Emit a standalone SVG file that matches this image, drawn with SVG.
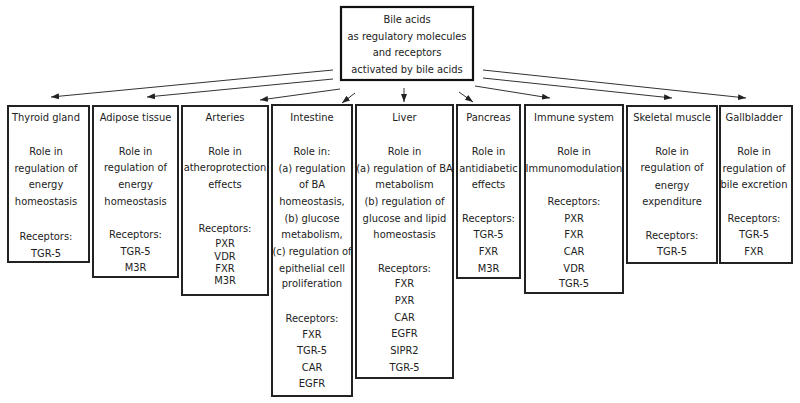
<svg xmlns="http://www.w3.org/2000/svg" width="800" height="403" viewBox="0 0 800 403">
<style>
text{font-family:"DejaVu Sans Condensed","DejaVu Sans",sans-serif;font-stretch:condensed;font-size:11px;fill:#222;text-anchor:middle}
.box{fill:#fff;stroke:#222;stroke-width:2}
.top{fill:#fff;stroke:#111;stroke-width:2.2}
.arr{stroke:#333;stroke-width:1;fill:none;marker-end:url(#ah)}
</style>
<defs>
<marker id="ah" markerUnits="userSpaceOnUse" markerWidth="8" markerHeight="6" refX="8" refY="3" orient="auto">
<path d="M0,0 L8,3 L0,6 z" fill="#222"/>
</marker>
</defs>
<rect width="800" height="403" fill="#fff"/>
<g id="connectors">
<line class="arr" x1="333" y1="70" x2="51" y2="97"/>
<line class="arr" x1="333" y1="79" x2="147" y2="97"/>
<line class="arr" x1="340" y1="89" x2="260" y2="100"/>
<line class="arr" x1="355" y1="93" x2="342" y2="103"/>
<line class="arr" x1="404" y1="88" x2="404" y2="102"/>
<line class="arr" x1="459" y1="92" x2="473" y2="102"/>
<line class="arr" x1="475" y1="86" x2="550" y2="98"/>
<line class="arr" x1="483" y1="78" x2="672" y2="98"/>
<line class="arr" x1="483" y1="70" x2="746" y2="98"/>
</g>
<g id="root">
<rect class="top" x="341" y="7" width="132" height="73"/>
<text x="407" y="23">Bile acids</text>
<text x="407" y="39.7">as regulatory molecules</text>
<text x="407" y="56.4">and receptors</text>
<text x="407" y="73.1">activated by bile acids</text>
</g>
<g id="thyroid">
<rect class="box" x="8" y="106" width="81" height="156"/>
<text x="46" y="121">Thyroid gland</text>
<text x="46" y="155">Role in</text>
<text x="46" y="171.7">regulation of</text>
<text x="46" y="188.4">energy</text>
<text x="46" y="205">homeostasis</text>
<text x="46" y="240">Receptors:</text>
<text x="46" y="256.5">TGR-5</text>
</g>
<g id="adipose">
<rect class="box" x="93" y="106" width="85" height="171"/>
<text x="135.5" y="121">Adipose tissue</text>
<text x="135.5" y="154.5">Role in</text>
<text x="135.5" y="171.2">regulation of</text>
<text x="135.5" y="188">energy</text>
<text x="135.5" y="204.5">homeostasis</text>
<text x="135.5" y="238.3">Receptors:</text>
<text x="135.5" y="254.5">TGR-5</text>
<text x="135.5" y="271.3">M3R</text>
</g>
<g id="arteries">
<rect class="box" x="182" y="106" width="86" height="189"/>
<text x="225" y="121.3">Arteries</text>
<text x="225" y="154.7">Role in</text>
<text x="225" y="171.3">atheroprotection</text>
<text x="225" y="188">effects</text>
<text x="225" y="232.3">Receptors:</text>
<text x="225" y="247.3">PXR</text>
<text x="225" y="260">VDR</text>
<text x="225" y="272.3">FXR</text>
<text x="225" y="284.3">M3R</text>
</g>
<g id="intestine">
<rect class="box" x="272" y="105" width="80" height="291"/>
<text x="312" y="120.7">Intestine</text>
<text x="312" y="155">Role in:</text>
<text x="312" y="171.7">(a) regulation</text>
<text x="312" y="188.3">of BA</text>
<text x="312" y="205">homeostasis,</text>
<text x="312" y="221.7">(b) glucose</text>
<text x="312" y="238.3">metabolism,</text>
<text x="312" y="255">(c) regulation of</text>
<text x="312" y="271.7">epithelial cell</text>
<text x="312" y="287.3">proliferation</text>
<text x="312" y="322.3">Receptors:</text>
<text x="312" y="338.3">FXR</text>
<text x="312" y="354">TGR-5</text>
<text x="312" y="370.7">CAR</text>
<text x="312" y="387.3">EGFR</text>
</g>
<g id="liver">
<rect class="box" x="356" y="105" width="97" height="273"/>
<text x="404.5" y="120.7">Liver</text>
<text x="404.5" y="155">Role in</text>
<text x="404.5" y="171.7">(a) regulation of BA</text>
<text x="404.5" y="188.3">metabolism</text>
<text x="404.5" y="205">(b) regulation of</text>
<text x="404.5" y="221.7">glucose and lipid</text>
<text x="404.5" y="238.3">homeostasis</text>
<text x="404.5" y="271.7">Receptors:</text>
<text x="404.5" y="287.3">FXR</text>
<text x="404.5" y="304">PXR</text>
<text x="404.5" y="320.7">CAR</text>
<text x="404.5" y="337">EGFR</text>
<text x="404.5" y="354">SIPR2</text>
<text x="404.5" y="370.7">TGR-5</text>
</g>
<g id="pancreas">
<rect class="box" x="457" y="105" width="63" height="173"/>
<text x="488.5" y="120.7">Pancreas</text>
<text x="488.5" y="155">Role in</text>
<text x="488.5" y="171.7">antidiabetic</text>
<text x="488.5" y="188.3">effects</text>
<text x="488.5" y="221.7">Receptors:</text>
<text x="488.5" y="238.3">TGR-5</text>
<text x="488.5" y="255">FXR</text>
<text x="488.5" y="271.7">M3R</text>
</g>
<g id="immune">
<rect class="box" x="525" y="105" width="98" height="188"/>
<text x="574" y="120.7">Immune system</text>
<text x="574" y="155">Role in</text>
<text x="574" y="171.7">Immunomodulation</text>
<text x="574" y="205">Receptors:</text>
<text x="574" y="221.7">PXR</text>
<text x="574" y="238.3">FXR</text>
<text x="574" y="255">CAR</text>
<text x="574" y="271.7">VDR</text>
<text x="574" y="287.3">TGR-5</text>
</g>
<g id="skeletal">
<rect class="box" x="627" y="106" width="90" height="157"/>
<text x="672" y="121.3">Skeletal muscle</text>
<text x="672" y="154.7">Role in</text>
<text x="672" y="171.3">regulation of</text>
<text x="672" y="188.5">energy</text>
<text x="672" y="204.7">expenditure</text>
<text x="672" y="239">Receptors:</text>
<text x="672" y="254.7">TGR-5</text>
</g>
<g id="gallbladder">
<rect class="box" x="720" y="106" width="72" height="157"/>
<text x="754" y="121">Gallbladder</text>
<text x="754" y="155">Role in</text>
<text x="754" y="171.7">regulation of</text>
<text x="754" y="188.3">bile excretion</text>
<text x="754" y="222.3">Receptors:</text>
<text x="754" y="238.3">TGR-5</text>
<text x="754" y="254.7">FXR</text>
</g>
</svg>
